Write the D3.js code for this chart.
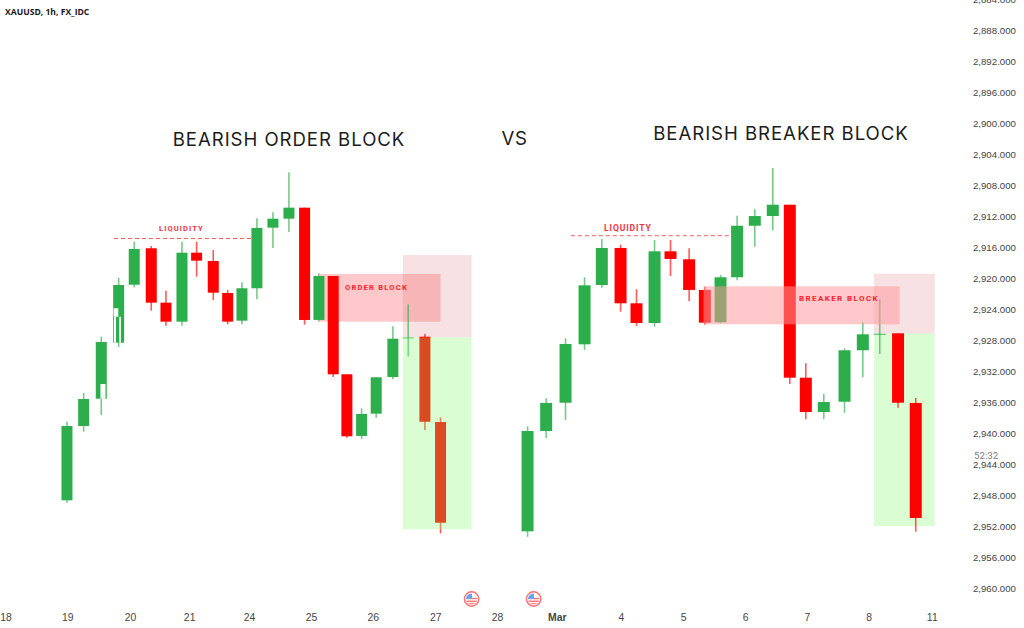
<!DOCTYPE html>
<html>
<head>
<meta charset="utf-8">
<script src="https://cdn.jsdelivr.net/npm/d3@7/dist/d3.min.js"></script>
<style>
	html, body { margin: 0; padding: 0; background: #fff; }
	svg { display: block; font-family: Roboto, sans-serif; }
	.axis text { fill: #454545; font-size: 9.7px; }
	.time_axis text { font-size: 10.4px; }
	.axis path, .axis line { display: none; }
</style>
</head>
<body>
<div id="main"></div>
<script>
// x values are sessions counted from the "18" label, prices grow downwards like on the chart
let day_labels = ["18", "19", "20", "21", "24", "25", "26", "27", "28", "Mar", "4", "5", "6", "7", "8", "11"];
let day_ticks = [0, 1, 2.013, 2.97, 3.937, 4.94, 5.94, 6.95, 7.95, 8.916, 9.952, 10.96, 11.96, 12.96, 13.96, 14.98];
let price_ticks = d3.range(2884, 2961, 4);

let left_time = [0.994, 1.264, 1.549, 1.830, 2.082, 2.357, 2.595, 2.854, 3.091, 3.360, 3.593, 3.824, 4.066, 4.325, 4.584, 4.837, 5.069, 5.300, 5.521, 5.759, 5.995, 6.265, 6.513, 6.783, 7.036];
let left_open = [2948.62, 2939.03, 2935.51, 2928.28, 2920.80, 2916.10, 2923.12, 2925.57, 2916.67, 2917.74, 2921.87, 2925.44, 2921.26, 2913.44, 2912.28, 2910.86, 2925.35, 2919.68, 2932.36, 2940.32, 2937.44, 2932.71, 2927.59, 2927.51, 2938.52];
let left_close = [2939.03, 2935.55, 2928.19, 2920.84, 2916.19, 2923.12, 2925.57, 2916.67, 2917.70, 2921.83, 2925.57, 2921.26, 2913.48, 2912.28, 2910.86, 2925.35, 2919.68, 2932.36, 2940.36, 2937.48, 2932.75, 2927.77, 2927.59, 2938.48, 2951.51];
let left_top = [2938.48, 2934.77, 2927.51, 2919.90, 2915.25, 2915.81, 2921.57, 2915.25, 2915.25, 2916.32, 2921.48, 2920.49, 2912.23, 2911.46, 2906.30, 2910.86, 2919.33, 2919.68, 2932.36, 2936.75, 2932.75, 2926.17, 2923.33, 2927.16, 2937.91];
let left_bottom = [2948.93, 2939.77, 2937.61, 2928.84, 2921.14, 2924.15, 2926.09, 2926.09, 2919.77, 2922.77, 2925.91, 2925.91, 2922.68, 2916.06, 2914.00, 2925.96, 2925.57, 2932.71, 2940.54, 2940.71, 2937.96, 2933.01, 2930.09, 2939.55, 2952.88];

let right_time = [8.443, 8.744, 9.057, 9.365, 9.644, 9.947, 10.205, 10.497, 10.755, 11.056, 11.310, 11.564, 11.832, 12.118, 12.409, 12.684, 12.943, 13.234, 13.569, 13.865, 14.139, 14.435, 14.721];
let right_open = [2952.62, 2939.68, 2936.03, 2928.49, 2920.84, 2916.06, 2923.20, 2925.74, 2916.49, 2917.52, 2921.48, 2925.65, 2919.84, 2913.19, 2911.94, 2910.48, 2932.80, 2937.23, 2935.90, 2929.26, 2927.12, 2927.07, 2936.06];
let right_close = [2939.68, 2936.06, 2928.45, 2920.88, 2916.06, 2923.20, 2925.74, 2916.49, 2917.48, 2921.48, 2925.70, 2919.84, 2913.19, 2911.94, 2910.48, 2932.80, 2937.23, 2935.94, 2929.26, 2927.20, 2927.12, 2936.03, 2950.90];
let right_top = [2939.07, 2935.46, 2927.72, 2919.84, 2914.90, 2915.64, 2921.39, 2915.03, 2915.03, 2916.10, 2921.06, 2919.55, 2911.90, 2911.07, 2905.74, 2910.48, 2930.94, 2934.86, 2929.01, 2925.65, 2922.68, 2927.07, 2935.42];
let right_bottom = [2953.32, 2940.58, 2938.26, 2929.23, 2921.19, 2924.28, 2926.13, 2926.22, 2919.68, 2922.90, 2925.96, 2925.78, 2920.23, 2915.90, 2913.78, 2933.61, 2938.17, 2938.17, 2937.32, 2932.75, 2929.74, 2936.67, 2952.67];

// [time start, time end, price start, price end]
let left_risk = [6.427, 7.538, 2916.97, 2927.59];
let left_reward = [6.427, 7.538, 2927.59, 2952.36];
let order_block = [5.085, 7.036, 2919.42, 2925.57];
let right_risk = [14.047, 15.028, 2919.38, 2927.10];
let right_reward = [14.047, 15.028, 2927.10, 2951.94];
let breaker_block = [11.29, 14.46, 2921.01, 2925.91];
// erased slivers of the pasted candles
let cutouts = [
	[1.536, 1.617, 2933.61, 2935.51],
	[1.749, 1.824, 2923.84, 2924.93],
	[1.754, 1.787, 2924.93, 2928.28],
	[1.840, 1.867, 2924.93, 2928.28]
];
// [time start, time end, price]
let left_liquidity = [1.754, 3.985, 2914.84];
let right_liquidity = [9.143, 11.714, 2914.48];
let event_times = [7.538, 8.541];

let green = "#2dae4c";
let red = "#ff0000";

let width = 1024, height = 628;
let svg = d3.select("#main").append("svg").attr("width", width).attr("height", height);

let x = d3.scaleLinear().domain([0, 15]).range([5.5, 933]);
let y = d3.scaleLinear().domain([2884, 2960]).range([-0.5, 588.5]);

function draw_zone(zone, color) {
	svg.append("rect")
		.attr("x", x(zone[0]))
		.attr("y", y(zone[2]))
		.attr("width", x(zone[1]) - x(zone[0]))
		.attr("height", y(zone[3]) - y(zone[2]))
		.attr("fill", color);
}

function draw_candles(time, open, close, top, bottom, bar_width) {
	let w = x(bar_width) - x(0);
	let group = svg.append("g");
	let candle = group.selectAll("g").data(d3.range(time.length)).enter().append("g");
	candle.append("line")
		.attr("x1", function (i) { return x(time[i]); })
		.attr("x2", function (i) { return x(time[i]); })
		.attr("y1", function (i) { return y(top[i]); })
		.attr("y2", function (i) { return y(bottom[i]); })
		.attr("stroke", function (i) { return close[i] <= open[i] ? green : red; })
		.attr("stroke-opacity", 0.65)
		.attr("stroke-width", 1.6);
	candle.append("rect")
		.attr("x", function (i) { return x(time[i]) - w / 2; })
		.attr("y", function (i) { return y(Math.min(open[i], close[i])); })
		.attr("width", w)
		.attr("height", function (i) { return Math.max(y(Math.max(open[i], close[i])) - y(Math.min(open[i], close[i])), 1.2); })
		.attr("fill", function (i) { return close[i] <= open[i] ? green : red; })
		.attr("fill-opacity", function (i) { return open[i] == close[i] ? 0.7 : 1; });
}

function draw_liquidity(line, label) {
	svg.append("line")
		.attr("x1", x(line[0])).attr("x2", x(line[1]))
		.attr("y1", y(line[2])).attr("y2", y(line[2]))
		.attr("stroke", "#ff5a5f").attr("stroke-width", 1).attr("stroke-dasharray", "4,3");
	svg.append("text")
		.attr("x", (x(line[0]) + x(line[1])) / 2 + label.shift)
		.attr("y", y(line[2]) - label.gap)
		.attr("text-anchor", "middle")
		.attr("fill", "#f5333f")
		.style("font-size", label.size + "px")
		.style("font-weight", 700)
		.style("letter-spacing", label.spacing + "px")
		.text("LIQUIDITY");
}

function add_label(text, px, py, size, spacing, color, weight, family) {
	svg.append("text")
		.attr("x", px).attr("y", py)
		.attr("text-anchor", "middle")
		.attr("fill", color)
		.style("font-family", family || null)
		.style("font-size", size + "px")
		.style("font-weight", weight)
		.style("letter-spacing", spacing + "px")
		.text(text);
}

let block_color = "rgba(255,151,155,0.53)";
let risk_color = "rgba(215,105,115,0.2)";
let reward_color = "rgba(134,248,111,0.3)";

// left setup: the block sits behind the candles, the green box on top of them
draw_zone(order_block, block_color);
draw_zone(left_risk, risk_color);
draw_candles(left_time, left_open, left_close, left_top, left_bottom, 0.178);
draw_zone(left_reward, reward_color);
cutouts.forEach(function (c) {
	draw_zone(c, "#ffffff");
});

// right setup is the other way round
draw_zone(right_risk, risk_color);
draw_zone(right_reward, reward_color);
draw_candles(right_time, right_open, right_close, right_top, right_bottom, 0.194);
draw_zone(breaker_block, block_color);

draw_liquidity(left_liquidity, { shift: -1.5, gap: 7.5, size: 7.6, spacing: 1.05 });
draw_liquidity(right_liquidity, { shift: -22.5, gap: 5, size: 8.6, spacing: 0.85 });

add_label("ORDER BLOCK", 376.5, 289.5, 7.6, 1.2, "#f5222d", 700);
add_label("BREAKER BLOCK", 839, 300.5, 8, 1.4, "#f5222d", 700);

add_label("BEARISH ORDER BLOCK", 289, 146, 18.6, 0.95, "#1c1c1c", 400, "Inter, sans-serif");
add_label("VS", 514.5, 144.5, 18.6, 0.55, "#1c1c1c", 400, "Inter, sans-serif");
add_label("BEARISH BREAKER BLOCK", 781, 140, 18.6, 0.95, "#1c1c1c", 400, "Inter, sans-serif");

svg.append("text")
	.attr("x", 5).attr("y", 15)
	.attr("fill", "#1a1a1a")
	.style("font-family", "'Open Sans', sans-serif")
	.style("font-size", "8.6px")
	.style("font-weight", 700)
	.text("XAUUSD, 1h, FX_IDC");

// axes
let price_axis = d3.axisRight(y).tickValues(price_ticks).tickSize(0).tickPadding(0).tickFormat(d3.format(",.3f"));
svg.append("g").attr("class", "axis").attr("transform", "translate(1016,0)").call(price_axis)
	.selectAll("text").attr("text-anchor", "end");

let time_axis = d3.axisBottom(x).tickValues(day_ticks).tickSize(0).tickPadding(0)
	.tickFormat(function (d, i) { return day_labels[i]; });
svg.append("g").attr("class", "axis time_axis").attr("transform", "translate(0,614)").call(time_axis)
	.selectAll("text")
	.style("font-weight", function (d, i) { return day_labels[i] == "Mar" ? 700 : 400; });

svg.append("text")
	.attr("x", 974).attr("y", 459)
	.attr("fill", "#7c7c7c")
	.style("font-size", "9.7px")
	.text("52:32");

// economic event markers on the time axis
let marker = svg.selectAll(".marker").data(event_times).enter().append("g")
	.attr("class", "marker")
	.attr("transform", function (d) { return "translate(" + x(d) + ",599)"; });
svg.append("clipPath").attr("id", "flag_clip").append("circle").attr("r", 5.6);
marker.append("circle").attr("r", 7.2).attr("fill", "#fff").attr("stroke", "#ff6d6d").attr("stroke-width", 1.4);
let flag = marker.append("g").attr("clip-path", "url(#flag_clip)");
flag.append("rect").attr("x", -6).attr("y", -6).attr("width", 12).attr("height", 12).attr("fill", "#fff");
flag.selectAll(".stripe").data([-1.2, 1.6, 4.2]).enter().append("rect")
	.attr("class", "stripe")
	.attr("x", -6).attr("y", function (d) { return d; }).attr("width", 12).attr("height", 1.4)
	.attr("fill", "#ff6d6d");
flag.append("rect").attr("x", -6).attr("y", -6).attr("width", 6.4).attr("height", 6).attr("fill", "#62a6f0");
</script>
</body>
</html>
